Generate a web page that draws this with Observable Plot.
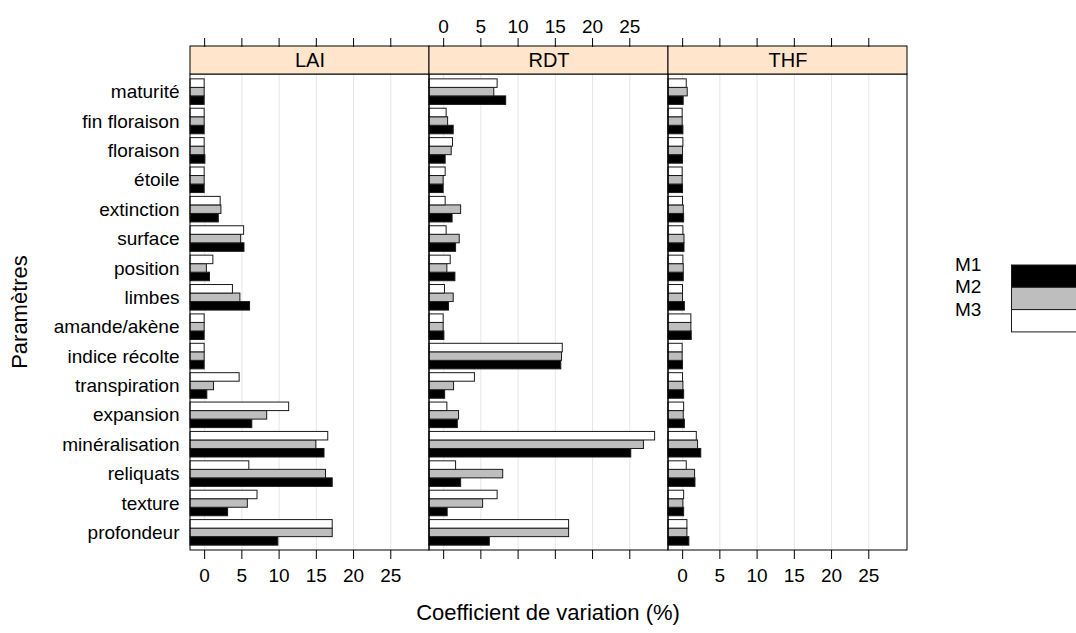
<!DOCTYPE html>
<html>
<head>
<meta charset="utf-8">
<script src="https://cdn.jsdelivr.net/npm/d3@7"></script>
<script src="https://cdn.jsdelivr.net/npm/@observablehq/plot@0.6"></script>
<style>
  html, body { margin: 0; padding: 0; background: white; }
  #wrap { position: relative; width: 1076px; height: 633px; }
  #legend { position: absolute; left: 0; top: 0; pointer-events: none; }
</style>
</head>
<body>
<div id="wrap"></div>
<script>
// ---------------- data ----------------
const categories = ["maturité","fin floraison","floraison","étoile","extinction","surface","position","limbes","amande/akène","indice récolte","transpiration","expansion","minéralisation","reliquats","texture","profondeur"];
const panels = ["LAI","RDT","THF"];
const series = ["M1","M2","M3"];
const seriesColors = ["#000000","#bebebe","#ffffff"];

const LAI_M1 = [0,0,0.1,0,1.9,5.35,0.72,6.1,0,0,0.36,6.4,16.1,17.2,3.15,9.9];
const LAI_M2 = [0,0,0,0,2.25,4.9,0.3,4.8,0,0,1.26,8.4,15.0,16.3,5.8,17.2];
const LAI_M3 = [0,0,0,0,2.15,5.3,1.17,3.8,0,0,4.7,11.35,16.6,6.0,7.1,17.2];
const RDT_M1 = [8.4,1.35,0.27,0,1.2,1.67,1.58,0.72,0.1,15.8,0.2,1.9,25.2,2.35,0.54,6.2];
const RDT_M2 = [6.8,0.6,1.08,0,2.35,2.16,0.5,1.35,0,15.9,1.4,2.07,26.9,8.0,5.3,16.85];
const RDT_M3 = [7.25,0.4,1.26,0.27,0.27,0.4,0.95,0.18,0,16.0,4.2,0.5,28.4,1.67,7.25,16.85];
const THF_M1 = [0.14,0.1,0.05,0.05,0.2,0.25,0.15,0.3,1.22,0.05,0.2,0.3,2.5,1.72,0.2,0.9];
const THF_M2 = [0.68,0,0.05,0,0.15,0.25,0.15,0.05,1.17,0,0.1,0.15,2.07,1.67,0.1,0.64];
const THF_M3 = [0.55,0,0.1,0,0.05,0.1,0.1,0.05,1.17,0,0.05,0.2,1.9,0.55,0.2,0.64];

const tickValues = [0,5,10,15,20,25];
const tickLabels = ["0","5","10","15","20","25"];
const gridValues = [0,5,10,15,20,25];

const xTitle = "Coefficient de variation (%)";
const yTitle = "Paramètres";

// ---------------- build tables ----------------
const valueTable = {
  LAI: [LAI_M1, LAI_M2, LAI_M3],
  RDT: [RDT_M1, RDT_M2, RDT_M3],
  THF: [THF_M1, THF_M2, THF_M3]
};
const N = categories.length;
const XMIN = -1.9, XMAX = 30.2;
const YLO = 0.4, YHI = N + 0.6;
const STRIP = 0.953;          // strip height in y units
const YTOP = YHI + STRIP;
const GROUP = 0.87, BAR = GROUP / 3;

const bars = [];
panels.forEach(p => {
  valueTable[p].forEach((vals, s) => {
    vals.forEach((v, i) => {
      const level = N - i;
      const y1 = level - GROUP / 2 + s * BAR;
      bars.push({panel: p, category: categories[i], series: series[s], value: v, y1, y2: y1 + BAR});
    });
  });
});
const panelRows = panels.map(p => ({panel: p}));
const gridRows = panels.flatMap(p => gridValues.map(v => ({panel: p, v})));
const bottomLabelRows = ["LAI","THF"].flatMap(p => tickValues.map((v, k) => ({panel: p, v, label: tickLabels[k]})));
const topLabelRows = ["RDT"].flatMap(p => tickValues.map((v, k) => ({panel: p, v, label: tickLabels[k]})));
const levels = categories.map((c, i) => N - i);

const FONT = "Liberation Sans, Arial, Helvetica, sans-serif";

const chart = Plot.plot({
  width: 1076,
  height: 633,
  marginLeft: 189,
  marginRight: 169,
  marginTop: 46,
  marginBottom: 83,
  style: {fontFamily: FONT, fontSize: "19px", color: "black", background: "white", overflow: "visible"},
  fx: {domain: panels, padding: 0, axis: null, label: null},
  x: {domain: [XMIN, XMAX], axis: null},
  y: {domain: [YLO, YTOP], axis: null},
  color: {domain: series, range: seriesColors},
  marks: [
    Plot.ruleX(gridRows, {fx: "panel", x: "v", y1: YLO, y2: YHI, stroke: "#e6e6e6", strokeWidth: 1}),
    Plot.rect(bars, {fx: "panel", x1: XMIN, x2: "value", y1: "y1", y2: "y2", fill: "series", stroke: "#1a1a1a", strokeWidth: 1}),
    Plot.rect(panelRows, {fx: "panel", x1: XMIN, x2: XMAX, y1: YLO, y2: YHI, fill: "none", stroke: "black", strokeWidth: 1}),
    Plot.rect(panelRows, {fx: "panel", x1: XMIN, x2: XMAX, y1: YHI, y2: YTOP, fill: "#ffe5cc", stroke: "black", strokeWidth: 1}),
    Plot.text(panelRows, {fx: "panel", x: (XMIN + XMAX) / 2, y: YHI + STRIP / 2, text: "panel", fontSize: 20}),
    Plot.axisX({anchor: "bottom", ticks: tickValues, tickFormat: () => "", tickSize: 9, label: null}),
    Plot.axisX({anchor: "top", ticks: tickValues, tickFormat: () => "", tickSize: 9, label: null}),
    Plot.text(bottomLabelRows, {fx: "panel", x: "v", text: "label", frameAnchor: "bottom", dy: 31, fontSize: 19}),
    Plot.text(topLabelRows, {fx: "panel", x: "v", text: "label", frameAnchor: "top", dy: -27, fontSize: 19}),
    Plot.axisY({anchor: "left", ticks: levels, tickFormat: l => categories[N - l], tickSize: 0, tickPadding: 11, label: null, fontSize: 19})
  ]
});

const wrap = document.getElementById("wrap");
wrap.appendChild(chart);

// overlay: axis titles and key (lattice style)
const leg = d3.select(wrap).append("svg")
  .attr("id", "legend")
  .attr("width", 1076).attr("height", 633)
  .style("font-family", FONT).style("font-size", "19px");
leg.append("text")
  .attr("x", 548).attr("y", 614)
  .attr("text-anchor", "middle").attr("dominant-baseline", "middle")
  .style("font-size", "22px")
  .text(xTitle);
leg.append("text")
  .attr("transform", "translate(21,312) rotate(-90)")
  .attr("text-anchor", "middle").attr("dominant-baseline", "middle")
  .style("font-size", "22px")
  .text(yTitle);
const keyTop = 265, keyH = 22.3;
series.forEach((s, k) => {
  leg.append("rect")
    .attr("x", 1011.5).attr("y", keyTop + k * keyH)
    .attr("width", 66).attr("height", keyH)
    .attr("fill", seriesColors[k]).attr("stroke", "#1a1a1a").attr("stroke-width", 1);
  leg.append("text")
    .attr("x", 955).attr("y", keyTop + 1 + k * keyH)
    .attr("dominant-baseline", "middle")
    .text(s);
});
</script>
</body>
</html>
